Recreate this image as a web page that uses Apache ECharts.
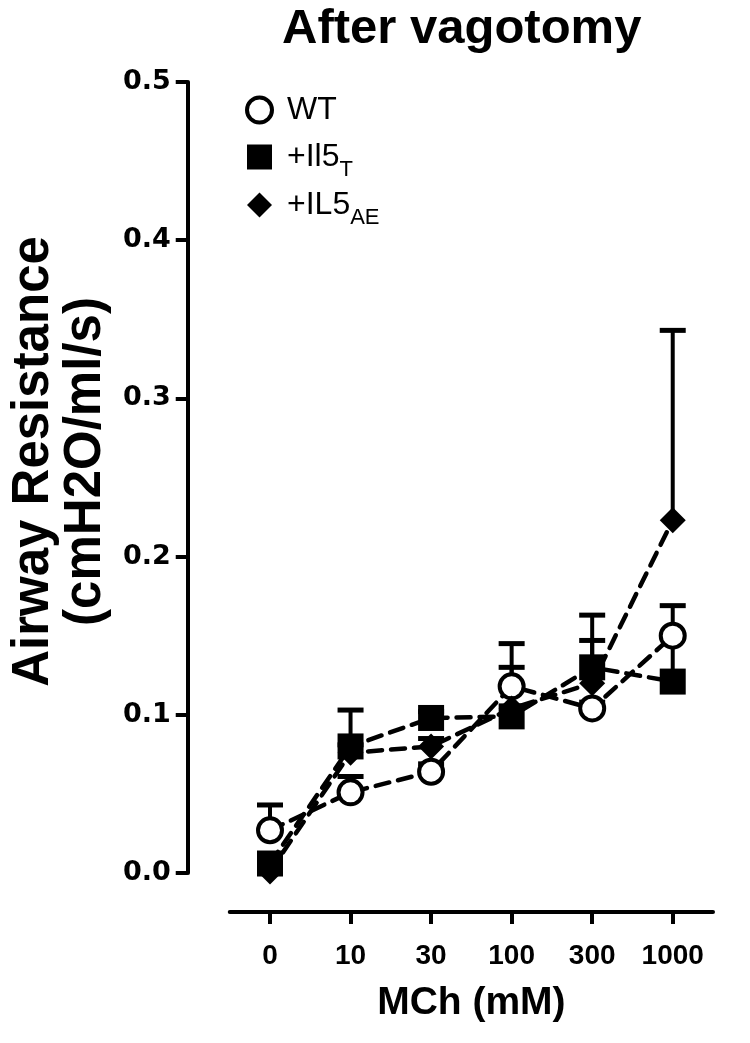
<!DOCTYPE html>
<html>
<head>
<meta charset="utf-8">
<script src="https://cdn.jsdelivr.net/npm/echarts@6/dist/echarts.min.js"></script>
<style>
  html, body { margin: 0; padding: 0; background: #fff; }
  #main { width: 750px; height: 1043px; }
</style>
</head>
<body>
<div id="main"></div>
<script>
// MCh doses (categories)
const doses = ['0', '10', '30', '100', '300', '1000'];
// means and upward SEM
const wtMean = [0.027, 0.051, 0.064, 0.118, 0.104, 0.150];
const wtSem = [0.016, 0.010, 0.005, 0.027, 0.004, 0.019];
const il5tMean = [0.006, 0.080, 0.098, 0.099, 0.130, 0.121];
const il5tSem = [0.002, 0.023, 0.004, 0.031, 0.033, 0.029];
const il5aeMean = [0.001, 0.076, 0.080, 0.104, 0.120, 0.223];
const il5aeSem = [0.000, 0.005, 0.005, 0.014, 0.027, 0.120];
const yMin = 0, yMax = 0.5, yStep = 0.1;

const FONT = "'Liberation Sans', Arial, sans-serif";

function errBars(mean, sem) {
    return {
        type: 'custom',
        silent: true,
        data: mean.map((m, i) => [i, m, m + sem[i]]),
        renderItem: function (params, api) {
            const base = api.coord([api.value(0), api.value(1)]);
            const top = api.coord([api.value(0), api.value(2)]);
            if (api.value(2) - api.value(1) <= 0) return null;
            return {
                type: 'group',
                children: [{
                    type: 'line',
                    shape: { x1: base[0], y1: base[1], x2: top[0], y2: top[1] },
                    style: { stroke: '#000', lineWidth: 4 }
                }, {
                    type: 'line',
                    shape: { x1: top[0] - 13, y1: top[1], x2: top[0] + 13, y2: top[1] },
                    style: { stroke: '#000', lineWidth: 5 }
                }]
            };
        }
    };
}

function lineSeries(name, data, symbol, size, itemStyle) {
    return {
        name: name,
        type: 'line',
        data: data,
        symbol: symbol,
        symbolSize: size,
        itemStyle: itemStyle,
        lineStyle: { color: '#000', width: 4.5, type: [14, 9], cap: 'round' },
        smooth: false
    };
}

let myChart = echarts.init(document.getElementById('main'));
myChart.setOption({
    animation: false,
    backgroundColor: '#fff',
    title: {
        text: 'After vagotomy',
        left: 277,
        top: 0,
        textStyle: { fontFamily: FONT, fontSize: 49, fontWeight: 'bold', color: '#000' }
    },
    legend: {
        orient: 'vertical',
        left: 240,
        top: 82,
        itemWidth: 25,
        itemHeight: 25,
        itemGap: 1,
        selectedMode: false,
        data: [
            { name: 'WT', icon: 'circle', itemStyle: { color: '#fff', borderColor: '#000', borderWidth: 4 } },
            { name: '+Il5T', icon: 'rect', itemStyle: { color: '#000', borderWidth: 0 } },
            { name: '+IL5AE', icon: 'diamond', itemStyle: { color: '#000', borderWidth: 0 } }
        ],
        formatter: function (name) {
            if (name === '+Il5T') return '{m|+Il5}{s|T}';
            if (name === '+IL5AE') return '{m|+IL5}{s|AE}';
            return '{m|' + name + '}';
        },
        textStyle: {
            color: '#000',
            fontFamily: FONT,
            lineHeight: 46,
            rich: {
                m: { fontSize: 32, fontFamily: FONT, color: '#000', padding: [0, 0, 0, 10] },
                s: { fontSize: 22, fontFamily: FONT, color: '#000', padding: [26, 0, 0, 0] }
            }
        }
    },
    grid: { left: 216, right: 37, top: 82, bottom: 170 },
    xAxis: {
        type: 'category',
        data: doses,
        boundaryGap: true,
        offset: 39,
        name: 'MCh (mM)',
        nameLocation: 'middle',
        nameGap: 72,
        nameTextStyle: { fontFamily: FONT, fontSize: 39, fontWeight: 'bold', color: '#000' },
        axisLine: { onZero: false, lineStyle: { color: '#000', width: 4 } },
        axisTick: { show: true, interval: 0, alignWithLabel: true, length: 12, lineStyle: { color: '#000', width: 4 } },
        axisLabel: { interval: 0, margin: 30, fontFamily: FONT, fontSize: 28, fontWeight: 'bold', color: '#000' },
        splitLine: { show: false }
    },
    yAxis: {
        type: 'value',
        min: yMin,
        max: yMax,
        interval: yStep,
        offset: 42,
        name: 'Airway Resistance\n(cmH2O/ml/s)',
        nameLocation: 'middle',
        nameRotate: 90,
        nameGap: 68,
        nameTextStyle: {
            fontFamily: FONT,
            fontSize: 51, fontWeight: 'bold', color: '#000', lineHeight: 52,
            padding: [0, 0, 0, 32]
        },
        axisLine: { show: true, lineStyle: { color: '#000', width: 4 } },
        axisTick: { show: true, length: 12, lineStyle: { color: '#000', width: 4 } },
        axisLabel: {
            margin: 17,
            fontFamily: "'DejaVu Sans', sans-serif",
            fontSize: 27, fontWeight: 'bold', color: '#000',
            formatter: v => v.toFixed(1)
        },
        splitLine: { show: false }
    },
    series: [
        errBars(wtMean, wtSem),
        lineSeries('WT', wtMean, 'circle', 24, { color: '#fff', borderColor: '#000', borderWidth: 4 }),
        errBars(il5tMean, il5tSem),
        lineSeries('+Il5T', il5tMean, 'rect', 26, { color: '#000', borderWidth: 0 }),
        errBars(il5aeMean, il5aeSem),
        lineSeries('+IL5AE', il5aeMean, 'diamond', 26, { color: '#000', borderWidth: 0 })
    ]
});
</script>
</body>
</html>
